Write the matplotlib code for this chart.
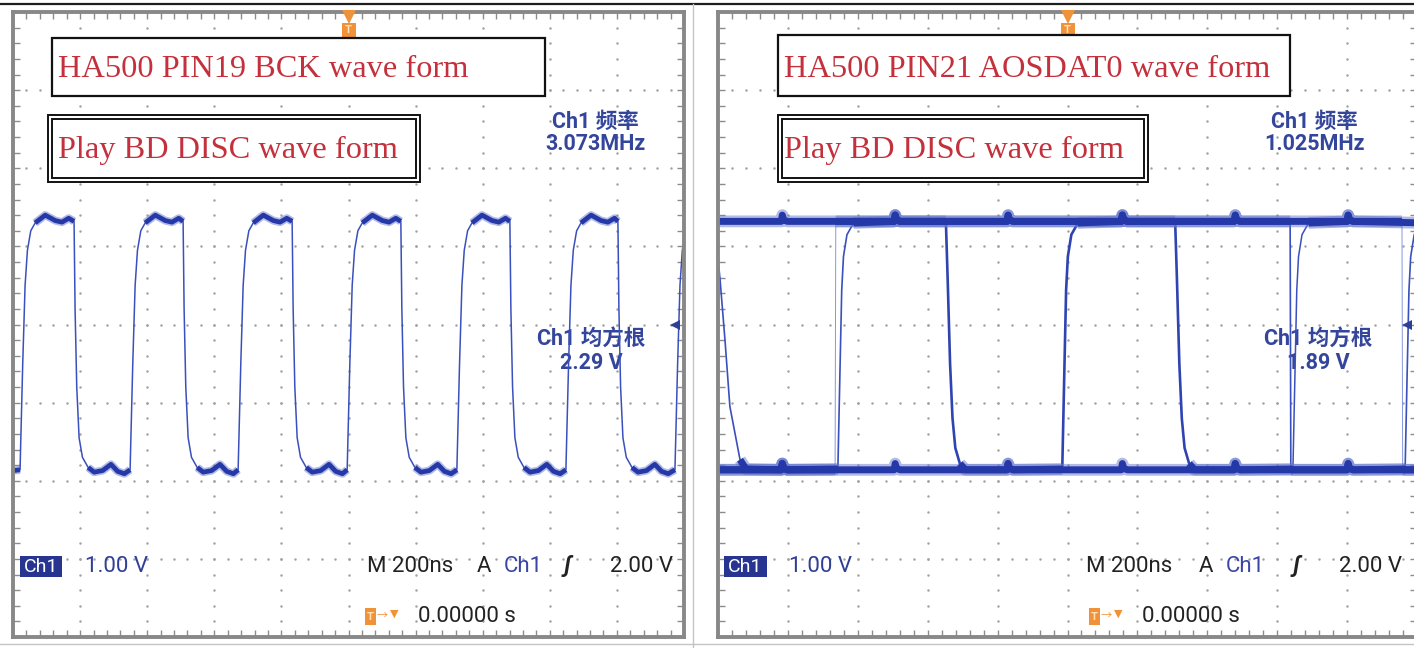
import numpy as np
import matplotlib
matplotlib.use("Agg")
import matplotlib.pyplot as plt
from matplotlib.patches import Rectangle
from matplotlib.lines import Line2D
from matplotlib.transforms import blended_transform_factory

plt.rcParams['font.family'] = ['Roboto', 'Noto Sans CJK SC', 'DejaVu Sans']

W, H = 1414, 648

# scope settings: 200 ns/div with trigger at centre, 1.00 V/div
t_range = (-1000, 1000)
v_range = (-2, 6)
trig_level = 2.0

# ---- left screen: HA500 PIN19 BCK (3.073 MHz) ----
bck_rise = [-979, -651, -329, -4, 323, 648, 973]
bck_fall = [-818, -493, -168, 156, 481, 803]
bck_start = 0.12
# (ns after the edge, volts) for the edge and the plateau that follows it
bck_rise_shape = [(0, 0.14), (8, 1.5), (15, 2.5), (22, 2.95), (32, 3.2), (45, 3.3),
                  (75, 3.40), (105, 3.33), (125, 3.31), (145, 3.36)]
bck_fall_shape = [(0, 3.32), (3, 2.2), (8, 1.2), (15, 0.55), (25, 0.3), (42, 0.17),
                  (60, 0.11), (85, 0.13), (110, 0.21), (130, 0.12), (150, 0.09)]

# ---- right screen: HA500 PIN21 AOSDAT0 (persistence, several sweeps) ----
dat_high, dat_low = 3.32, 0.14
dat_shapes = {
    'rise': [(0, 0.15), (5, 1.2), (11, 2.44), (16, 2.87), (26, 3.15), (45, 3.30)],
    'fall': [(0, 3.32), (5, 2.6), (12, 1.5), (19, 0.8), (27, 0.42), (40, 0.22), (56, 0.14)],
    'slow_fall': [(0, 3.3), (16, 2.57), (30, 1.8), (44, 0.95), (73, 0.27), (90, 0.15)],
    'fast_rise': [(0, 0.14), (2, 3.32)],
    'fast_fall': [(0, 3.32), (2, 0.14)],
}
dat_sweeps = [
    (True, [(-348, 'fall'), (-15, 'rise'), (308, 'fall')]),
    (True, [(-1010, 'slow_fall'), (-657, 'rise'), (637, 'fast_fall'), (966, 'rise')]),
    (False, [(-665, 'fast_rise'), (957, 'fast_fall')]),
    (False, [(645, 'rise')]),
]
dat_edge_lw = [1.9, 1.2, 0.7, 1.1]
dat_edge_col = ['#2f44b0', '#3a50bc', '#8796dc', '#3a50bc']
dat_bumps = [-816, -493, -170, 157, 480, 803]
bump_shape = [(-3, 0.0), (0, 0.08), (4, 0.02), (14, 0.0)]

RED = '#c4303c'
BLUE = '#2f3f98'
ORANGE = '#f0923a'
DARK = '#222222'
TRACE = '#2538a8'
HALO = '#6677cc'


def build(start_v, edges, shapes):
    ts, vs = [t_range[0] - 20], [start_v]
    for t, kind in edges:
        for dt, v in shapes[kind]:
            ts.append(t + dt)
            vs.append(v)
    if ts[-1] < t_range[1] + 20:
        ts.append(t_range[1] + 20)
        vs.append(vs[-1])
    return ts, vs


def add_bumps(ts, vs, start_high, edges):
    ts, vs = list(ts), list(vs)
    for b in dat_bumps:
        prev = [e for e in edges if e[0] <= b]
        nxt = [e for e in edges if e[0] > b]
        if prev and b - prev[-1][0] < 70:
            continue
        if nxt and nxt[0][0] - b < 25:
            continue
        high = ('rise' in prev[-1][1]) if prev else start_high
        lvl = dat_high if high else dat_low
        for dt, dv in bump_shape:
            ts.append(b + dt)
            vs.append(lvl + dv)
    order = np.argsort(ts, kind='stable')
    return np.array(ts)[order], np.array(vs)[order]


def draw_trace(ax, ts, vs, edge_lw, edge_col, band):
    ts, vs = np.asarray(ts, float), np.asarray(vs, float)
    ax.plot(ts, vs, lw=edge_lw, color=edge_col, zorder=2)
    for mask in (vs >= 3.25, vs <= 0.28):
        seg = np.ma.masked_where(~mask, vs)
        ax.plot(ts, seg, lw=band * 1.7, color=HALO, alpha=0.5,
                solid_capstyle='butt', zorder=2.1)
        ax.plot(ts, seg, lw=band, color=TRACE, solid_capstyle='butt', zorder=2.2)


def screen(fig, x0, x1):
    ax = fig.add_axes([x0 / W, 1 - 637 / H, (x1 - x0) / W, 625 / H])
    ax.set_xlim(t_range)
    ax.set_ylim(v_range)
    ax.set_xticks(np.arange(-1000, 1001, 200))
    ax.set_xticks(np.arange(-1000, 1001, 40), minor=True)
    ax.set_yticks(np.arange(-2, 6.01, 1))
    ax.set_yticks(np.arange(-2, 6.01, 0.2), minor=True)
    ax.tick_params(which='both', direction='in', top=True, right=True,
                   labelbottom=False, labelleft=False, length=5, width=1,
                   color='#8c8c8c')
    for s in ax.spines.values():
        s.set_linewidth(2.8)
        s.set_color('#888888')
    # dotted graticule
    gx, gy = np.arange(-800, 801, 200), np.arange(-1, 5.01, 1)
    mx, my = np.arange(-1000, 1001, 40), np.arange(-2, 6.01, 0.2)
    X1, Y1 = np.meshgrid(gx, my)
    X2, Y2 = np.meshgrid(mx, gy)
    ax.plot(np.r_[X1.ravel(), X2.ravel()], np.r_[Y1.ravel(), Y2.ravel()], ls='none',
            marker='o', ms=1.8, mew=0, color='#a3a3a3', zorder=0.5)
    # trigger position marker at top, trigger level arrow at right
    tr = blended_transform_factory(ax.transData, ax.transAxes)
    ax.plot([0], [1 - 5 / 625], marker='v', ms=10, color=ORANGE, mew=0,
            transform=tr, clip_on=False, zorder=5)
    ax.plot([0], [1 - 18 / 625], marker='s', ms=10, color=ORANGE, mew=0,
            transform=tr, clip_on=False, zorder=5)
    ax.text(0, 1 - 18 / 625, 'T', transform=tr, ha='center', va='center',
            fontsize=8, color='#ffe2b8', weight='bold', zorder=6)
    tr2 = blended_transform_factory(ax.transAxes, ax.transData)
    ax.plot([0.986], [trig_level], marker='<', ms=7, color=BLUE, mew=0,
            transform=tr2, zorder=5)
    return ax


fig = plt.figure(figsize=(W / 100, H / 100), dpi=100)
fig.patch.set_facecolor('white')


def P(x, y):
    return x / W, 1 - y / H


def box(x0, y0, x1, y1, **kw):
    fig.add_artist(Rectangle(P(x0, y1), (x1 - x0) / W, (y1 - y0) / H,
                             transform=fig.transFigure, **kw))


def txt(x, y, s, **kw):
    kw.setdefault('va', 'center')
    fig.text(*P(x, y), s, **kw)


# outer decorations
fig.add_artist(Line2D([0, 1], [1 - 4 / H] * 2, lw=1.6, color='#1e1e1e'))
fig.add_artist(Line2D([693 / W] * 2, [0, 1 - 4 / H], lw=1, color='#c4c4c4'))
fig.add_artist(Line2D([0, 1], [1 - 644 / H] * 2, lw=1, color='#c4c4c4'))

axL = screen(fig, 13, 684)
axR = screen(fig, 718, 1417)

# left trace
bck_edges = sorted([(t, 'r') for t in bck_rise] + [(t, 'f') for t in bck_fall])
ts, vs = build(bck_start, bck_edges, {'r': bck_rise_shape, 'f': bck_fall_shape})
draw_trace(axL, ts, vs, 1.1, '#3a50bc', 3.4)

# right traces
for (start_high, edges), lw, col in zip(dat_sweeps, dat_edge_lw, dat_edge_col):
    ts, vs = build(dat_high if start_high else dat_low, edges, dat_shapes)
    ts, vs = add_bumps(ts, vs, start_high, edges)
    draw_trace(axR, ts, vs, lw, col, 5.0)

# annotation boxes
serif = dict(family='Liberation Serif', fontsize=23.3, color=RED, va='baseline')
for x0, x1, x2, title in [(52, 545, 420, 'HA500 PIN19 BCK wave form'),
                          (778, 1290, 1148, 'HA500 PIN21 AOSDAT0 wave form')]:
    y0 = 38 if x0 < 700 else 35
    box(x0, y0, x1, 96, facecolor='white', edgecolor='#111111', lw=1.6)
    txt(x0 + 6, 77, title, **serif)
    bx = x0 - (4 if x0 < 700 else 0)
    box(bx, 115, x2, 182, facecolor='white', edgecolor='#111111', lw=1.4)
    box(bx + 4, 119, x2 - 4, 178, facecolor='none', edgecolor='#111111', lw=1.4)
    txt(x0 + 6, 158, 'Play BD DISC wave form', **serif)

# measurements
meas = dict(ha='center', fontsize=15.5, weight='bold', color='#34469c')
txt(595, 122, 'Ch1 频率', **meas)
txt(595, 144, '3.073MHz', **meas)
txt(1314, 122, 'Ch1 频率', **meas)
txt(1314, 144, '1.025MHz', **meas)
for ax, cx, val in [(axL, 591, '2.29 V'), (axR, 1318, '1.89 V')]:
    ax.text(*P(cx, 340), 'Ch1 均方根', transform=fig.transFigure, va='center',
            zorder=1, **meas)
    ax.text(*P(cx, 363), val, transform=fig.transFigure, va='center',
            zorder=1, **meas)

# bottom readouts
lab = dict(fontsize=16, color=DARK)
for ch_x0, ch_x1, v1x, mx, ax_, chx, sx, v2x, ix, zx in [
        (20, 62, 85, 367, 477, 504, 563, 610, 365, 418),
        (724, 767, 789, 1086, 1199, 1226, 1292, 1339, 1089, 1142)]:
    box(ch_x0, 556, ch_x1, 577, facecolor='#283590', edgecolor='none')
    txt((ch_x0 + ch_x1) / 2, 566.5, 'Ch1', ha='center', fontsize=14, color='white')
    txt(v1x, 566, '1.00 V', fontsize=16, color=BLUE)
    txt(mx, 566, 'M 200ns', **lab)
    txt(ax_, 566, 'A', **lab)
    txt(chx, 566, 'Ch1', fontsize=16, color='#3a45a6')
    txt(sx, 566, 'ʃ', fontsize=16, color=DARK, style='italic', weight='bold')
    txt(v2x, 566, '2.00 V', **lab)
    box(ix, 608, ix + 11, 625, facecolor=ORANGE, edgecolor='none')
    txt(ix + 5.5, 616.5, 'T', ha='center', fontsize=8, color='#ffe2b8', weight='bold')
    txt(ix + 12, 616, '→', fontsize=8, color=ORANGE)
    txt(ix + 25, 614, '▼', fontsize=8, color=ORANGE, family='DejaVu Sans')
    txt(zx, 617, '0.00000 s', **lab)

fig.savefig('out.png', dpi=100)
